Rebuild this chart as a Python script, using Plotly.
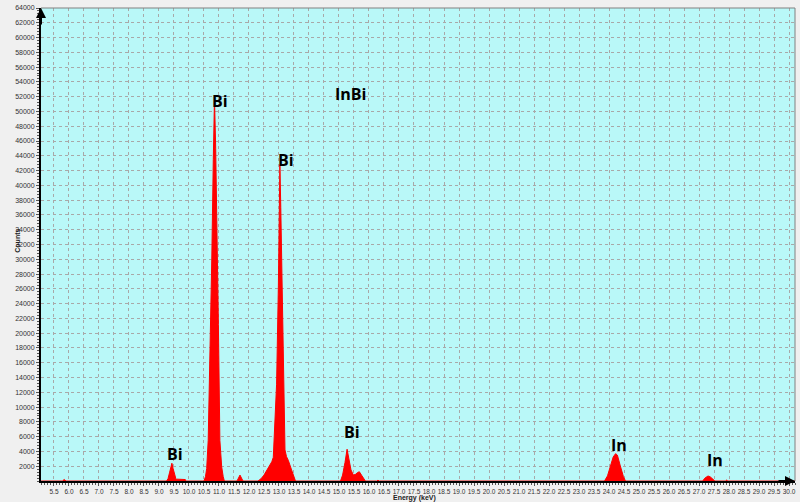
import plotly.graph_objects as go

# spectrum (energy keV, counts)
energy = [5.07, 5.78, 5.84, 5.90,
          9.25, 9.30, 9.35, 9.40, 9.43, 9.47, 9.52, 9.57, 9.60, 9.75, 9.87, 9.92,
          10.50, 10.55, 10.59, 10.64, 10.70, 10.76, 10.81, 10.85, 10.89, 10.92, 10.98, 11.03, 11.09, 11.14, 11.18,
          11.60, 11.65, 11.70, 11.75, 11.80,
          12.30, 12.40, 12.50, 12.60, 12.70, 12.76, 12.81, 12.87, 12.92, 12.98, 13.03, 13.06, 13.09, 13.14,
          13.20, 13.25, 13.31, 13.42, 13.50, 13.55,
          15.05, 15.12, 15.20, 15.27, 15.33, 15.40, 15.48, 15.55, 15.62, 15.68, 15.75, 15.82, 15.88,
          16.26, 16.30, 16.34,
          23.85, 23.95, 24.03, 24.14, 24.22, 24.28, 24.37, 24.48, 24.55,
          27.12, 27.20, 27.30, 27.38, 27.48, 27.53,
          27.88, 27.92, 27.96, 30.2]
counts = [0, 0, 200, 0,
          0, 300, 1100, 2100, 2400, 1700, 800, 200, 250, 250, 200, 0,
          0, 600, 1700, 5500, 16600, 30000, 43500, 51800, 45000, 38000, 21200, 5500, 1900, 600, 0,
          0, 400, 800, 400, 0,
          0, 300, 800, 1500, 2200, 2600, 3200, 8200, 13100, 26500, 42800, 37000, 29600, 13100,
          4200, 3300, 2800, 1500, 400, 0,
          0, 800, 2500, 4300, 3000, 1500, 800, 900, 1150, 1250, 800, 300, 0,
          0, 120, 0,
          0, 700, 1900, 3250, 3700, 3500, 2150, 600, 0,
          0, 400, 680, 550, 200, 0,
          0, 120, 0, 0]

peak_labels = ["Bi", "Bi", "InBi", "Bi", "Bi", "In", "In"]
label_x = [11.05, 13.25, 15.37, 9.53, 15.42, 24.33, 27.52]
label_y = [51460, 43400, 52400, 3620, 6640, 4900, 2820]

x_ticks = [5.5 + 0.5 * i for i in range(50)]
y_ticks = [2000 * i for i in range(1, 33)]

fig = go.Figure()
fig.add_trace(go.Scatter(x=energy, y=counts, mode="lines", fill="tozeroy",
                         line=dict(color="red", width=1), fillcolor="red",
                         showlegend=False))

for txt, lx, ly in zip(peak_labels, label_x, label_y):
    fig.add_annotation(x=lx, y=ly, text="<b>" + txt + "</b>", showarrow=False,
                       font=dict(family="Open Sans", size=16, color="black"))

# axis titles
fig.add_annotation(x=0.496, y=-0.024, xref="paper", yref="paper", yanchor="top",
                   text="<b>Energy (keV)</b>", showarrow=False,
                   font=dict(family="Liberation Sans", size=7, color="#222"))
fig.add_annotation(x=-0.0385, y=0.509, xref="paper", yref="paper", text="<b>Counts</b>",
                   showarrow=False, textangle=-90,
                   font=dict(family="Liberation Sans", size=7, color="#222"))

# arrows on the axes
fig.add_annotation(x=0, y=1, xref="paper", yref="paper", ax=0, ay=18, showarrow=True,
                   arrowhead=2, arrowsize=1, arrowwidth=2, arrowcolor="black", text="")
fig.add_annotation(x=1, y=0, xref="paper", yref="paper", ax=-18, ay=0, showarrow=True,
                   arrowhead=2, arrowsize=1, arrowwidth=2, arrowcolor="black", text="")

# grey border top / right
fig.add_shape(type="line", xref="paper", yref="paper", x0=0, x1=1, y0=1, y1=1,
              line=dict(color="#808080", width=1))
fig.add_shape(type="line", xref="paper", yref="paper", x0=1, x1=1, y0=0, y1=1,
              line=dict(color="#808080", width=1))

fig.update_xaxes(range=[5.067, 30.2], tickvals=x_ticks, ticktext=["%.1f" % v for v in x_ticks],
                 tickangle=0,
                 showgrid=True, gridcolor="#a8a8a8", griddash="dot", gridwidth=1,
                 showline=True, linecolor="black", linewidth=2, zeroline=False,
                 ticks="outside", ticklen=3, tickcolor="#555",
                 minor=dict(dtick=0.1, ticks="outside", ticklen=2, tickcolor="#555", showgrid=False),
                 tickfont=dict(family="Liberation Sans", size=6.5, color="#333"))
fig.update_yaxes(range=[0, 64000], tickvals=y_ticks, ticktext=[str(v) for v in y_ticks],
                 showgrid=True, gridcolor="#a8a8a8", griddash="dot", gridwidth=1,
                 showline=True, linecolor="black", linewidth=2, zeroline=False,
                 ticks="outside", ticklen=3, tickcolor="#555",
                 minor=dict(dtick=400, ticks="outside", ticklen=2, tickcolor="#555", showgrid=False),
                 tickfont=dict(family="Liberation Sans", size=7, color="#333"))

fig.update_layout(width=800, height=502,
                  margin=dict(l=41, r=5, t=4, b=21),
                  paper_bgcolor="#f0f0f0", plot_bgcolor="#b9f8f8",
                  showlegend=False)

fig.write_html("out.html", config={"displayModeBar": False},
               post_script="document.body.style.margin='0px';")
